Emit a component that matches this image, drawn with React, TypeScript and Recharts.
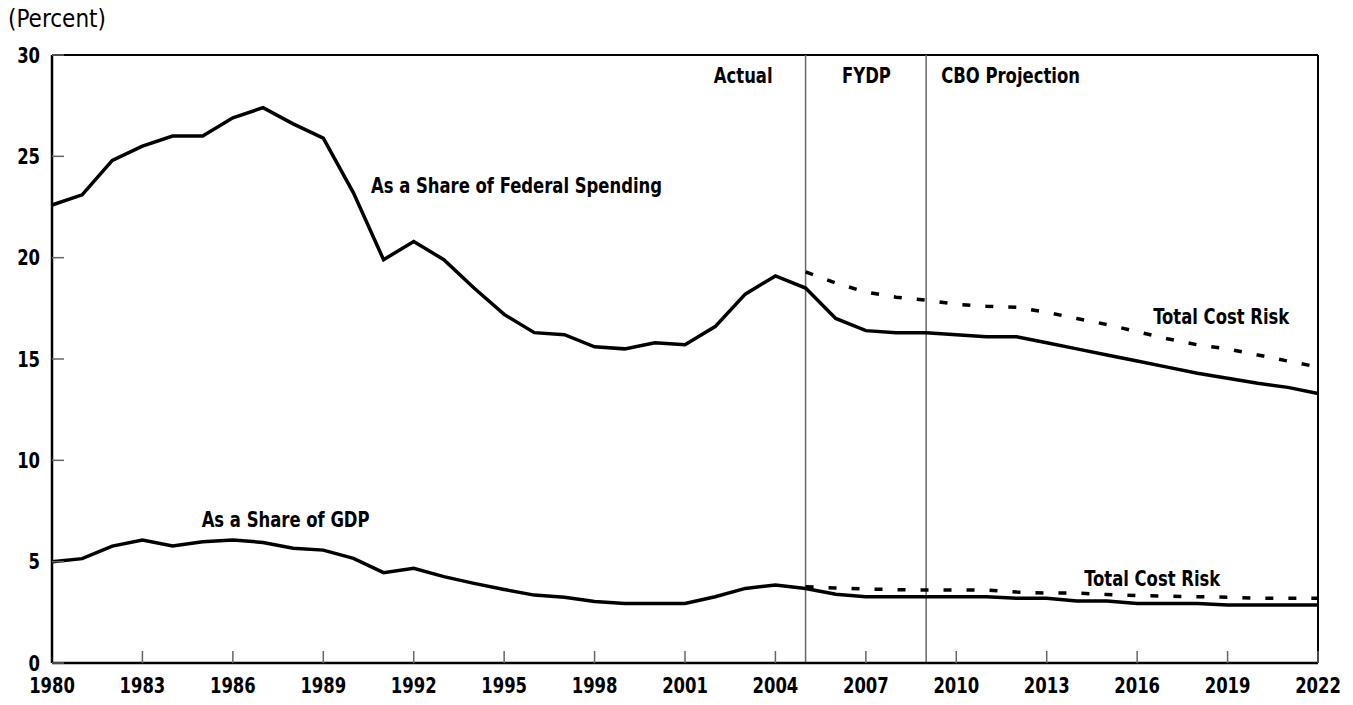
import React from 'react';
import {
    LineChart, Line, XAxis, YAxis, ReferenceLine, ReferenceDot,
} from 'recharts';

const FONT = "'DejaVu Sans Condensed', 'DejaVu Sans', sans-serif";
const SQUEEZE = 0.87; // reference type is narrower than anything installed

const years = [
    1980, 1981, 1982, 1983, 1984, 1985, 1986, 1987, 1988, 1989,
    1990, 1991, 1992, 1993, 1994, 1995, 1996, 1997, 1998, 1999,
    2000, 2001, 2002, 2003, 2004, 2005, 2006, 2007, 2008, 2009,
    2010, 2011, 2012, 2013, 2014, 2015, 2016, 2017, 2018, 2019,
    2020, 2021, 2022,
];

// share of federal spending (solid)
const federalShare = [
    22.6, 23.1, 24.8, 25.5, 26.0, 26.0, 26.9, 27.4, 26.6, 25.9,
    23.2, 19.9, 20.8, 19.9, 18.5, 17.2, 16.3, 16.2, 15.6, 15.5,
    15.8, 15.7, 16.6, 18.2, 19.1, 18.5, 17.0, 16.4, 16.3, 16.3,
    16.2, 16.1, 16.1, 15.8, 15.5, 15.2, 14.9, 14.6, 14.3, 14.05,
    13.8, 13.6, 13.3,
];

// total cost risk, federal spending (dashed, 2005 on)
const federalRisk = [
    19.3, 18.75, 18.3, 18.05, 17.9, 17.7, 17.6, 17.55, 17.3, 17.0,
    16.7, 16.35, 16.0, 15.7, 15.5, 15.2, 14.9, 14.6,
];

// share of GDP (solid)
const gdpShare = [
    5.0, 5.15, 5.77, 6.07, 5.77, 5.98, 6.07, 5.95, 5.66, 5.57,
    5.16, 4.46, 4.67, 4.26, 3.93, 3.63, 3.35, 3.24, 3.03, 2.94,
    2.94, 2.94, 3.27, 3.68, 3.85, 3.68, 3.39, 3.27, 3.27, 3.27,
    3.27, 3.27, 3.2, 3.19, 3.06, 3.06, 2.94, 2.94, 2.94, 2.86,
    2.86, 2.86, 2.86,
];

// total cost risk, GDP (dashed, 2005 on)
const gdpRisk = [
    3.76, 3.7, 3.65, 3.62, 3.6, 3.6, 3.6, 3.5, 3.45, 3.45,
    3.38, 3.33, 3.3, 3.27, 3.25, 3.2, 3.2, 3.2,
];

const RISK_START = 2005;
const xTicks = [1980, 1983, 1986, 1989, 1992, 1995, 1998, 2001, 2004, 2007, 2010, 2013, 2016, 2019, 2022];
const yTicks = [0, 5, 10, 15, 20, 25, 30];
const dividers = [2005, 2009];

const annotations = [
    { x: 2002.93, y: 29.0, text: 'Actual' },
    { x: 2007.02, y: 29.0, text: 'FYDP' },
    { x: 2011.8, y: 29.0, text: 'CBO Projection' },
    { x: 1995.41, y: 23.54, text: 'As a Share of Federal Spending' },
    { x: 1987.75, y: 7.06, text: 'As a Share of GDP' },
    { x: 2018.79, y: 17.12, text: 'Total Cost Risk' },
    { x: 2016.5, y: 4.19, text: 'Total Cost Risk' },
];

const data = years.map((year, i) => {
    const r = year - RISK_START;
    return {
        year,
        federal: federalShare[i],
        gdp: gdpShare[i],
        federalRisk: r >= 0 ? federalRisk[r] : null,
        gdpRisk: r >= 0 ? gdpRisk[r] : null,
    };
});

function NarrowText({ x, y, text, anchor, dy, size = 21, weight = 700 }: any) {
    return (
        <text
            transform={`translate(${x},${y}) scale(${SQUEEZE},1)`}
            textAnchor={anchor}
            dy={dy}
            fontSize={size}
            fontWeight={weight}
            fontFamily={FONT}
            fill="#000"
        >
            {text}
        </text>
    );
}

function XTick({ x, y, payload }: any) {
    return <NarrowText x={x} y={y} text={payload.value} anchor="middle" dy="0.72em" />;
}

function YTick({ x, y, payload }: any) {
    return <NarrowText x={x} y={y} text={payload.value} anchor="end" dy="0.36em" />;
}

export default function App() {
    return (
        <div style={{ position: 'absolute', left: 0, top: 0, width: 1353, height: 705, background: '#fff' }}>
            <LineChart width={1353} height={705} data={data} margin={{ top: 55, right: 35, bottom: 0, left: 0 }}>
                <XAxis
                    dataKey="year"
                    type="number"
                    domain={[1980, 2022]}
                    ticks={xTicks}
                    height={42}
                    tick={<XTick />}
                    tickSize={-12}
                    tickMargin={27}
                    tickLine={{ stroke: '#666', strokeWidth: 1.5 }}
                    axisLine={{ stroke: '#000', strokeWidth: 2.5 }}
                    interval={0}
                />
                <YAxis
                    type="number"
                    domain={[0, 30]}
                    ticks={yTicks}
                    width={52}
                    tick={<YTick />}
                    tickSize={-12}
                    tickMargin={24}
                    tickLine={{ stroke: '#666', strokeWidth: 1.5 }}
                    axisLine={{ stroke: '#000', strokeWidth: 2.5 }}
                    interval={0}
                />
                <ReferenceLine y={30} stroke="#000" strokeWidth={2} />
                <ReferenceLine x={2022} stroke="#000" strokeWidth={2} />
                {dividers.map(d => (
                    <ReferenceLine key={d} x={d} stroke="#666" strokeWidth={1.5} />
                ))}
                <Line type="linear" dataKey="federal" stroke="#000" strokeWidth={3.5} dot={false} isAnimationActive={false} />
                <Line type="linear" dataKey="gdp" stroke="#000" strokeWidth={3.5} dot={false} isAnimationActive={false} />
                <Line type="linear" dataKey="federalRisk" stroke="#000" strokeWidth={3.5} strokeDasharray="8 15" dot={false} isAnimationActive={false} />
                <Line type="linear" dataKey="gdpRisk" stroke="#000" strokeWidth={3.5} strokeDasharray="8 15" dot={false} isAnimationActive={false} />
                {annotations.map((a, i) => (
                    <ReferenceDot
                        key={i}
                        x={a.x}
                        y={a.y}
                        r={0}
                        stroke="none"
                        fill="none"
                        label={{
                            content: (p: any) => (
                                <NarrowText
                                    x={p.viewBox.x + p.viewBox.width / 2}
                                    y={p.viewBox.y + p.viewBox.height / 2}
                                    text={a.text}
                                    anchor="middle"
                                    dy="0.36em"
                                />
                            ),
                        }}
                    />
                ))}
            </LineChart>
            <div style={{
                position: 'absolute', left: 8, top: 5, fontSize: 24, fontFamily: FONT, color: '#000',
            }}>
                (Percent)
            </div>
        </div>
    );
}
